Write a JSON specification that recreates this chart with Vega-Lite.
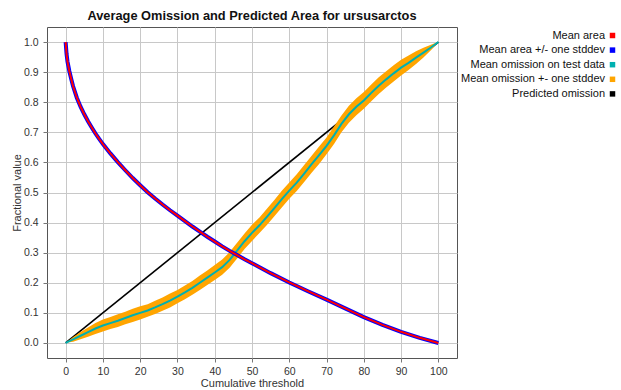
{
  "$schema": "https://vega.github.io/schema/vega-lite/v6.json",
  "autosize": "none",
  "width": 410,
  "height": 331,
  "padding": {"left": 47, "top": 27, "right": 164, "bottom": 32},
  "background": "white",
  "title": {
    "text": "Average Omission and Predicted Area for ursusarctos",
    "font": "Liberation Sans",
    "fontSize": 12.8,
    "fontWeight": "bold",
    "color": "#111111",
    "anchor": "middle",
    "offset": 4
  },
  "config": {
    "view": {"stroke": "#555555", "strokeWidth": 1},
    "axis": {
      "labelFont": "Liberation Sans",
      "labelFontSize": 10.5,
      "labelColor": "#333333",
      "labelOverlap": false,
      "titleFont": "Liberation Sans",
      "titleFontSize": 11,
      "titleFontWeight": "normal",
      "titleColor": "#333333",
      "gridColor": "#c8c8c8",
      "gridWidth": 1,
      "tickColor": "#777777",
      "tickSize": 4,
      "domain": false
    },
    "legend": {
      "labelFont": "Liberation Sans",
      "labelFontSize": 11,
      "labelColor": "#111111"
    }
  },
  "datasets": {
    "area": [
      {"t": 0, "a": 1.0}, {"t": 0.25, "a": 0.96}, {"t": 0.5, "a": 0.935}, {"t": 1, "a": 0.903},
      {"t": 1.5, "a": 0.877}, {"t": 2, "a": 0.853}, {"t": 3, "a": 0.815}, {"t": 4, "a": 0.785},
      {"t": 5, "a": 0.76}, {"t": 6, "a": 0.737}, {"t": 7, "a": 0.716}, {"t": 8, "a": 0.696},
      {"t": 9, "a": 0.678}, {"t": 10, "a": 0.661}, {"t": 12, "a": 0.63}, {"t": 14, "a": 0.601},
      {"t": 16, "a": 0.574}, {"t": 18, "a": 0.548}, {"t": 20, "a": 0.524}, {"t": 22, "a": 0.501},
      {"t": 24, "a": 0.48}, {"t": 26, "a": 0.46}, {"t": 28, "a": 0.441}, {"t": 30, "a": 0.423},
      {"t": 32, "a": 0.405}, {"t": 34, "a": 0.387}, {"t": 36, "a": 0.37}, {"t": 38, "a": 0.353},
      {"t": 40, "a": 0.337}, {"t": 42, "a": 0.321}, {"t": 44, "a": 0.306}, {"t": 46, "a": 0.292},
      {"t": 48, "a": 0.278}, {"t": 50, "a": 0.265}, {"t": 55, "a": 0.232}, {"t": 60, "a": 0.201},
      {"t": 65, "a": 0.172}, {"t": 70, "a": 0.144}, {"t": 75, "a": 0.115}, {"t": 80, "a": 0.086},
      {"t": 85, "a": 0.06}, {"t": 90, "a": 0.037}, {"t": 95, "a": 0.017}, {"t": 100, "a": 0.0}
    ],
    "omission": [
      {"t": 0, "m": 0.0, "lo": 0.0, "hi": 0.0},
      {"t": 1, "m": 0.006, "lo": 0.002, "hi": 0.01},
      {"t": 2, "m": 0.012, "lo": 0.004, "hi": 0.02},
      {"t": 4, "m": 0.024, "lo": 0.012, "hi": 0.036},
      {"t": 6, "m": 0.036, "lo": 0.021, "hi": 0.051},
      {"t": 8, "m": 0.048, "lo": 0.03, "hi": 0.066},
      {"t": 10, "m": 0.058, "lo": 0.038, "hi": 0.078},
      {"t": 12, "m": 0.066, "lo": 0.046, "hi": 0.086},
      {"t": 14, "m": 0.074, "lo": 0.053, "hi": 0.095},
      {"t": 16, "m": 0.083, "lo": 0.062, "hi": 0.104},
      {"t": 18, "m": 0.092, "lo": 0.07, "hi": 0.114},
      {"t": 20, "m": 0.1, "lo": 0.078, "hi": 0.122},
      {"t": 22, "m": 0.108, "lo": 0.087, "hi": 0.129},
      {"t": 24, "m": 0.118, "lo": 0.096, "hi": 0.14},
      {"t": 26, "m": 0.129, "lo": 0.107, "hi": 0.151},
      {"t": 28, "m": 0.141, "lo": 0.118, "hi": 0.164},
      {"t": 30, "m": 0.154, "lo": 0.132, "hi": 0.176},
      {"t": 32, "m": 0.168, "lo": 0.145, "hi": 0.191},
      {"t": 34, "m": 0.183, "lo": 0.16, "hi": 0.206},
      {"t": 36, "m": 0.2, "lo": 0.176, "hi": 0.224},
      {"t": 38, "m": 0.217, "lo": 0.193, "hi": 0.241},
      {"t": 40, "m": 0.234, "lo": 0.209, "hi": 0.259},
      {"t": 42, "m": 0.252, "lo": 0.227, "hi": 0.277},
      {"t": 44, "m": 0.276, "lo": 0.25, "hi": 0.302},
      {"t": 46, "m": 0.307, "lo": 0.281, "hi": 0.333},
      {"t": 48, "m": 0.338, "lo": 0.312, "hi": 0.364},
      {"t": 50, "m": 0.366, "lo": 0.339, "hi": 0.393},
      {"t": 52, "m": 0.391, "lo": 0.365, "hi": 0.417},
      {"t": 54, "m": 0.419, "lo": 0.392, "hi": 0.446},
      {"t": 56, "m": 0.448, "lo": 0.421, "hi": 0.475},
      {"t": 58, "m": 0.478, "lo": 0.45, "hi": 0.506},
      {"t": 60, "m": 0.506, "lo": 0.479, "hi": 0.533},
      {"t": 62, "m": 0.533, "lo": 0.505, "hi": 0.561},
      {"t": 64, "m": 0.563, "lo": 0.535, "hi": 0.591},
      {"t": 66, "m": 0.594, "lo": 0.566, "hi": 0.622},
      {"t": 68, "m": 0.624, "lo": 0.595, "hi": 0.653},
      {"t": 70, "m": 0.655, "lo": 0.627, "hi": 0.683},
      {"t": 72, "m": 0.69, "lo": 0.661, "hi": 0.719},
      {"t": 74, "m": 0.728, "lo": 0.7, "hi": 0.756},
      {"t": 76, "m": 0.76, "lo": 0.732, "hi": 0.788},
      {"t": 78, "m": 0.785, "lo": 0.757, "hi": 0.813},
      {"t": 80, "m": 0.806, "lo": 0.778, "hi": 0.834},
      {"t": 82, "m": 0.831, "lo": 0.803, "hi": 0.859},
      {"t": 84, "m": 0.855, "lo": 0.827, "hi": 0.883},
      {"t": 86, "m": 0.876, "lo": 0.849, "hi": 0.903},
      {"t": 88, "m": 0.896, "lo": 0.869, "hi": 0.923},
      {"t": 90, "m": 0.915, "lo": 0.889, "hi": 0.941},
      {"t": 92, "m": 0.931, "lo": 0.907, "hi": 0.955},
      {"t": 94, "m": 0.948, "lo": 0.927, "hi": 0.969},
      {"t": 96, "m": 0.965, "lo": 0.949, "hi": 0.981},
      {"t": 98, "m": 0.982, "lo": 0.973, "hi": 0.991},
      {"t": 99, "m": 0.991, "lo": 0.986, "hi": 0.996},
      {"t": 100, "m": 1.0, "lo": 1.0, "hi": 1.0}
    ],
    "predicted": [
      {"t": 0, "p": 0.0},
      {"t": 100, "p": 1.0}
    ]
  },
  "encoding": {
    "x": {
      "field": "t",
      "type": "quantitative",
      "scale": {"domain": [-5, 105], "nice": false, "zero": false},
      "axis": {
        "title": "Cumulative threshold",
        "values": [0, 10, 20, 30, 40, 50, 60, 70, 80, 90, 100],
        "labelPadding": 4,
        "titlePadding": 1
      }
    }
  },
  "layer": [
    {
      "data": {"name": "predicted"},
      "mark": {"type": "line", "strokeWidth": 1.6},
      "encoding": {
        "y": {
          "field": "p",
          "type": "quantitative",
          "scale": {"domain": [-0.05, 1.05], "nice": false, "zero": false},
          "axis": {
            "title": "Fractional value",
            "values": [0, 0.1, 0.2, 0.3, 0.4, 0.5, 0.6, 0.7, 0.8, 0.9, 1.0],
            "format": ".1f",
            "labelPadding": 5,
            "titleX": -25
          }
        },
        "color": {
          "datum": "Predicted omission",
          "type": "nominal",
          "scale": {
            "domain": ["Mean area", "Mean area +/- one stddev", "Mean omission on test data", "Mean omission +- one stddev", "Predicted omission"],
            "range": ["#ff0000", "#0000ff", "#00b0b0", "#ffa500", "#000000"]
          },
          "legend": {
            "title": null,
            "orient": "none",
            "legendX": 560,
            "legendY": 3,
            "padding": 0,
            "symbolType": "square",
            "symbolSize": 30,
            "symbolStrokeWidth": 0,
            "labelAlign": "right",
            "labelOffset": -13,
            "rowPadding": 2.6,
            "encode": {
              "symbols": {
                "update": {
                  "fill": {"scale": "color", "field": "value"},
                  "stroke": {"value": "transparent"},
                  "strokeWidth": {"value": 0},
                  "opacity": {"value": 1}
                }
              }
            }
          }
        }
      }
    },
    {
      "data": {"name": "omission"},
      "mark": {"type": "area", "opacity": 1},
      "encoding": {
        "y": {
          "field": "lo",
          "type": "quantitative",
          "axis": {
            "title": "Fractional value",
            "values": [0, 0.1, 0.2, 0.3, 0.4, 0.5, 0.6, 0.7, 0.8, 0.9, 1.0],
            "format": ".1f",
            "labelPadding": 5,
            "titleX": -25
          }
        },
        "y2": {"field": "hi"},
        "color": {"datum": "Mean omission +- one stddev", "type": "nominal"}
      }
    },
    {
      "data": {"name": "omission"},
      "mark": {"type": "line", "strokeWidth": 2},
      "encoding": {
        "y": {
          "field": "m",
          "type": "quantitative",
          "axis": {
            "title": "Fractional value",
            "values": [0, 0.1, 0.2, 0.3, 0.4, 0.5, 0.6, 0.7, 0.8, 0.9, 1.0],
            "format": ".1f",
            "labelPadding": 5,
            "titleX": -25
          }
        },
        "color": {"datum": "Mean omission on test data", "type": "nominal"}
      }
    },
    {
      "data": {"name": "area"},
      "mark": {"type": "line", "strokeWidth": 4},
      "encoding": {
        "y": {
          "field": "a",
          "type": "quantitative",
          "axis": {
            "title": "Fractional value",
            "values": [0, 0.1, 0.2, 0.3, 0.4, 0.5, 0.6, 0.7, 0.8, 0.9, 1.0],
            "format": ".1f",
            "labelPadding": 5,
            "titleX": -25
          }
        },
        "color": {"datum": "Mean area +/- one stddev", "type": "nominal"}
      }
    },
    {
      "data": {"name": "area"},
      "mark": {"type": "line", "strokeWidth": 2},
      "encoding": {
        "y": {
          "field": "a",
          "type": "quantitative",
          "axis": {
            "title": "Fractional value",
            "values": [0, 0.1, 0.2, 0.3, 0.4, 0.5, 0.6, 0.7, 0.8, 0.9, 1.0],
            "format": ".1f",
            "labelPadding": 5,
            "titleX": -25
          }
        },
        "color": {"datum": "Mean area", "type": "nominal"}
      }
    }
  ]
}
